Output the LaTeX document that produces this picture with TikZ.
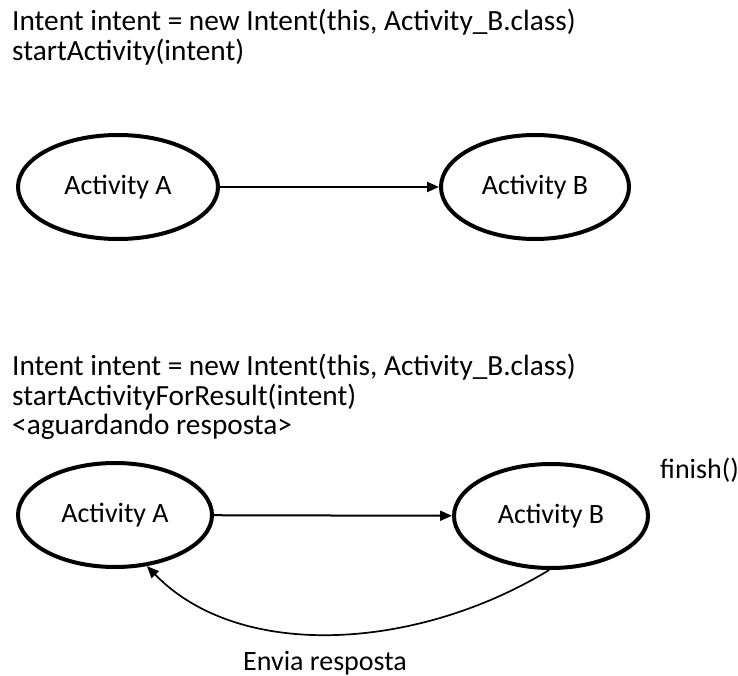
\documentclass[tikz,border=0pt]{standalone}
\usepackage{fontspec}
\setmainfont{Carlito}
\usetikzlibrary{shapes.geometric,arrows.meta}
\begin{document}
\begin{tikzpicture}[x=1pt,y=-1pt,
  code/.style={anchor=west,inner sep=0pt,font=\fontsize{29.3}{32}\selectfont},
  label/.style={inner sep=0pt,font=\fontsize{28}{32}\selectfont},
  activity/.style={ellipse,draw,line width=4pt,inner sep=0pt,
    minimum width=#1,minimum height=104pt,font=\fontsize{28}{32}\selectfont},
  link/.style={line width=2pt,-{Triangle[length=12pt,width=10pt]}},
  back/.style={line width=1.7pt,-{Triangle[length=12pt,width=10pt]}}]
  \path[use as bounding box] (0,0) rectangle (738,676);

  % startActivity
  \node[code] (c1) at (12,22) {Intent intent = new Intent(this, Activity\_B.class)};
  \node[code] (c2) at (12,52) {startActivity(intent)};
  \node[activity=200pt] (a1) at (118,187) {Activity A};
  \node[activity=188pt] (b1) at (535,187) {Activity B};
  \draw[link] (a1) -- (b1);

  % startActivityForResult
  \node[code] (c3) at (12,367) {Intent intent = new Intent(this, Activity\_B.class)};
  \node[code] (c4) at (12,397) {startActivityForResult(intent)};
  \node[code] (c5) at (12,427) {<aguardando resposta>};
  \node[activity=194pt] (a2) at (115,515) {Activity A};
  \node[activity=194pt] (b2) at (551,516) {Activity B};
  \node[label,anchor=west] (fin) at (660,470) {finish()};
  \draw[link] (a2) -- (b2);
  \draw[back] (b2.-92) .. controls (418,650) and (240,662) .. (a2.-58);
  \node[label] (env) at (325,663) {Envia resposta};
\end{tikzpicture}
\end{document}
